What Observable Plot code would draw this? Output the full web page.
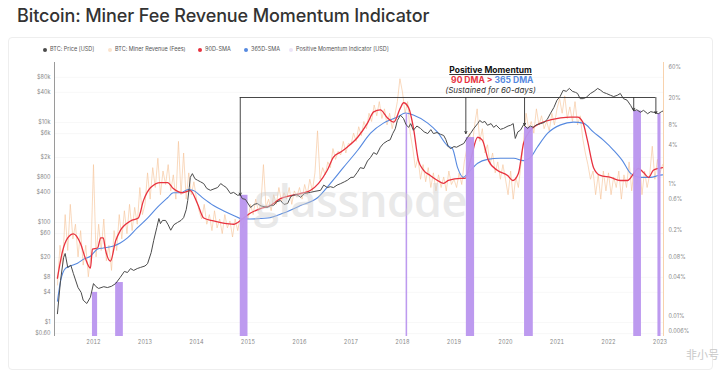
<!DOCTYPE html>
<html><head><meta charset="utf-8">
<script src="https://cdn.jsdelivr.net/npm/d3@7"></script>
<script src="https://cdn.jsdelivr.net/npm/@observablehq/plot@0.6"></script>
<style>
body{margin:0;background:#fff;font-family:Inter,"Noto Sans",sans-serif;}
#wrap{position:relative;width:719px;height:371px;overflow:hidden;background:#fff;}
#title{position:absolute;left:17px;top:5px;font-size:18px;font-weight:500;color:#333;white-space:nowrap;letter-spacing:-0.1px;}
#card{position:absolute;left:8px;top:37px;width:703px;height:331px;border:1px solid #eee;border-radius:4px;}
#legend{position:absolute;top:45px;left:0;width:719px;height:10px;font-size:5.5px;color:#555;}
.li{position:absolute;white-space:nowrap;top:0;line-height:8px;}
.dot{display:inline-block;width:4px;height:4px;border-radius:50%;margin-right:3px;vertical-align:-0.5px;}
#chart{position:absolute;left:0;top:58px;}
#wm{position:absolute;left:254px;top:169px;font-size:45px;font-weight:600;color:#cfcfcf;opacity:0.45;letter-spacing:-0.5px;font-family:"Open Sans",sans-serif;pointer-events:none;}
#fxh{position:absolute;left:686px;top:346px;font-size:11px;color:#c8c8c8;font-family:"Noto Sans CJK SC",sans-serif;}
</style></head>
<body><div id="wrap">
<div id="title">Bitcoin: Miner Fee Revenue Momentum Indicator</div>
<div id="card"></div>
<div id="legend"></div>
<div id="chart"></div>
<div id="wm">glassnode</div>
<div id="fxh">非小号</div>
</div>
<script>
// ---------- data ----------
const yearTicks = [2012,2013,2014,2015,2016,2017,2018,2019,2020,2021,2022,2023];
const leftTicks = [0.6,1,4,8,20,60,100,400,800,2000,6000,10000,40000,80000];
const leftTickLabels = ["$0.60","$1","$4","$8","$20","$60","$100","$400","$800","$2k","$6k","$10k","$40k","$80k"];
const rightTicks = [0.006,0.01,0.04,0.08,0.2,0.6,1,4,8,20,60];
const rightTickLabels = ["0.006%","0.01%","0.04%","0.08%","0.2%","0.6%","1%","4%","8%","20%","60%"];

const priceYears = [2011.30,2011.36,2011.42,2011.45,2011.50,2011.56,2011.61,2011.70,2011.76,2011.80,2011.87,2011.94,
2012.00,2012.05,2012.10,2012.20,2012.27,2012.35,2012.43,2012.52,2012.60,2012.66,2012.72,2012.78,2012.85,2012.91,
2013.00,2013.05,2013.12,2013.17,2013.23,2013.27,2013.30,2013.34,2013.40,2013.45,2013.50,2013.56,2013.63,2013.70,2013.75,2013.80,2013.83,2013.86,2013.88,2013.92,2013.97,
2014.02,2014.08,2014.14,2014.20,2014.27,2014.34,2014.41,2014.47,2014.52,2014.58,2014.66,2014.72,2014.80,2014.85,2014.89,2014.95,
2015.05,2015.12,2015.18,2015.25,2015.38,2015.44,2015.50,2015.56,2015.63,2015.70,2015.77,2015.83,2015.88,2015.95,
2016.02,2016.10,2016.21,2016.30,2016.41,2016.47,2016.54,2016.60,2016.66,2016.73,2016.80,2016.87,2016.93,
2017.00,2017.05,2017.12,2017.18,2017.25,2017.32,2017.38,2017.44,2017.50,2017.57,2017.63,2017.71,2017.76,2017.81,2017.86,2017.90,2017.96,
2018.02,2018.07,2018.12,2018.16,2018.21,2018.28,2018.35,2018.42,2018.49,2018.55,2018.60,2018.67,2018.74,2018.80,2018.84,2018.89,2018.93,
2019.00,2019.05,2019.12,2019.19,2019.26,2019.32,2019.38,2019.46,2019.50,2019.55,2019.60,2019.65,2019.72,2019.77,2019.82,2019.90,2019.96,
2020.05,2020.10,2020.15,2020.19,2020.24,2020.29,2020.35,2020.43,2020.48,2020.54,2020.60,2020.68,2020.75,2020.81,2020.87,2020.94,
2021.00,2021.06,2021.12,2021.18,2021.24,2021.30,2021.36,2021.40,2021.45,2021.51,2021.57,2021.65,2021.72,2021.79,2021.85,2021.90,2021.96,
2022.04,2022.10,2022.17,2022.23,2022.29,2022.36,2022.43,2022.49,2022.55,2022.62,2022.68,2022.76,2022.82,2022.87,2022.93,2022.97,2023.03,2023.06];
const priceVals = [1.5,6.9,20,24,12.6,14,9.5,5,4,2.8,2.4,3.2,
6,5.2,4.8,5.2,5,5.3,6,8,10.5,10,12,11,12,12.6,
13.5,15,25,44,80,120,95,110,110,90,70,90,100,110,125,180,275,500,800,950,750,
700,650,600,480,440,470,500,600,550,500,380,400,350,360,300,290,
200,230,240,215,200,220,220,260,275,230,240,330,350,360,
320,380,400,420,440,560,500,520,500,560,600,650,700,
800,800,1000,1250,1200,1700,2000,2500,2300,3200,3800,4300,4500,6000,7500,11000,14000,
12000,9000,8000,9500,7000,8500,7600,6500,6000,7200,6000,6300,5800,5500,4600,3300,3000,
3300,3200,3500,3800,5000,6000,7500,9500,11000,10000,10500,8800,9500,8000,8800,7300,7600,
8500,8800,9500,4800,6500,7000,9000,7600,8500,8000,9000,9500,10000,11500,15000,20000,
28000,33000,44000,42000,48000,42000,40000,38000,30000,30000,32000,38000,42000,48000,44000,40000,38000,
35000,33000,35000,38000,30000,28000,22000,17000,18000,16000,17500,15000,16500,16000,15500,15000,16500,17000];

// Miner revenue from fees (%), sampled every 0.05 year from 2011.30
const feeStart = 2011.30, feeStep = 0.05;
const feeVals = [
0.03,0.12,0.06,0.35,0.10,0.50,0.15,0.25,0.08,0.20,0.06,0.12,0.04,0.09,
2.0,0.08,0.25,0.10,0.30,0.07,0.12,0.05,0.20,0.10,0.35,0.15,0.40,0.18,0.50,0.20,0.45,0.25,0.90,0.35,
0.5,1.5,0.6,1.8,0.9,2.5,0.7,1.6,1.0,2.0,0.8,1.4,0.6,4.5,0.7,3.0,0.6,1.5,0.7,1.1,
0.6,0.4,0.3,0.5,0.25,0.35,0.2,0.4,0.22,0.3,0.18,0.35,0.22,0.28,0.16,0.3,0.2,0.32,0.22,0.4,
0.3,0.5,0.35,0.6,0.4,0.5,2.0,0.45,0.6,0.4,0.7,0.5,0.9,0.55,0.75,0.6,0.9,0.5,0.8,0.65,
0.9,0.6,1.0,0.7,1.2,0.8,1.5,6.5,1.2,1.8,1.4,2.2,1.8,3.5,2.4,3.2,2.8,4.5,3.0,4.2,
4.0,6.0,4.5,7.5,5.5,9.0,7.0,12.0,9.0,16.0,11.0,18.0,10.0,14.0,8.0,12.0,7.0,11.0,18.0,40.0,
25,12,18,6,3.5,1.8,2.5,1.2,2.0,1.1,1.8,0.9,1.5,0.8,1.4,0.9,1.3,0.8,1.6,1.0,
1.2,0.9,1.5,1.0,2.2,3.5,6.0,3.5,8.0,14.0,4.5,7.0,3.0,4.0,2.0,3.0,1.5,2.2,1.2,2.0,
1.2,0.7,1.6,0.6,1.3,0.9,2.0,4.5,12.0,7.0,9.0,6.0,14.0,8.0,11.0,7.0,9.0,6.5,12.0,8.0,
14,20,12,22,10,15,9,18,8,11,5,3,2,1.2,1.6,0.7,1.4,0.6,1.6,0.8,
1.5,0.7,1.3,0.9,1.6,0.6,1.4,0.9,2.2,0.8,1.8,1.0,2.5,0.7,1.6,0.9,1.4,3.8,1.2,2.4,
1.5,2.0];

const sma90Years = [2011.30,2011.40,2011.50,2011.61,2011.75,2011.84,2011.94,2011.98,2012.08,2012.14,2012.19,2012.23,2012.33,2012.43,2012.52,2012.72,2012.87,2012.97,
2013.11,2013.30,2013.44,2013.55,2013.73,2013.88,2014.02,2014.14,2014.33,2014.52,2014.72,2014.89,2015.05,2015.24,2015.44,2015.63,2015.83,
2016.02,2016.21,2016.37,2016.54,2016.66,2016.80,2016.93,2017.13,2017.32,2017.44,2017.57,2017.71,2017.83,2017.96,2018.02,2018.12,2018.21,2018.31,2018.41,2018.54,2018.68,2018.80,2018.89,
2019.13,2019.22,2019.32,2019.46,2019.55,2019.67,2019.84,2020.04,2020.14,2020.25,2020.35,2020.49,2020.68,2020.87,2021.07,2021.26,2021.40,2021.50,2021.59,2021.71,2021.84,
2022.04,2022.23,2022.37,2022.49,2022.58,2022.68,2022.78,2022.87,2022.97,2023.05];
const sma90Vals = [0.038,0.098,0.155,0.179,0.126,0.077,0.054,0.105,0.109,0.155,0.155,0.105,0.069,0.14,0.2,0.28,0.31,0.57,
0.9,1.07,1.07,0.87,0.75,0.81,0.51,0.31,0.28,0.26,0.25,0.30,0.37,0.43,0.48,0.61,0.68,
0.73,0.81,1.04,1.64,2.6,3.1,3.7,5.2,8.5,12.6,13.5,10.2,8.8,14.5,17.3,14.5,7.4,2.3,1.64,1.37,1.15,1.04,1.15,
1.24,1.24,2.3,5.2,4.7,2.3,1.64,1.37,1.15,1.47,4.2,6.7,8.5,9.5,10.2,10.5,10.5,8.8,4.7,1.8,1.37,
1.28,1.15,1.15,1.47,1.75,1.52,1.28,1.64,1.75,1.8];

const sma365Years = [2011.30,2011.36,2011.46,2011.55,2011.69,2011.81,2011.94,2012.08,2012.19,2012.39,2012.52,2012.66,2012.85,
2013.05,2013.24,2013.44,2013.55,2013.69,2013.84,2013.94,2014.14,2014.33,2014.52,2014.72,2014.89,2015.05,2015.38,2015.69,
2016.02,2016.35,2016.60,2016.85,2017.13,2017.38,2017.63,2017.90,2018.06,2018.21,2018.49,2018.68,2018.87,2018.97,
2019.07,2019.18,2019.28,2019.46,2019.65,2019.90,2020.16,2020.35,2020.49,2020.62,2020.82,2021.07,2021.32,2021.51,2021.71,2021.90,
2022.10,2022.27,2022.43,2022.62,2022.82,2022.97,2023.05];
const sma365Vals = [0.017,0.034,0.054,0.058,0.064,0.074,0.082,0.105,0.109,0.117,0.13,0.155,0.22,
0.31,0.45,0.63,0.75,0.75,0.84,0.81,0.61,0.48,0.40,0.34,0.30,0.30,0.31,0.37,
0.48,0.63,1.04,1.8,3.3,6.0,8.5,10.5,12.1,11.3,8.5,6.2,3.9,3.5,
1.8,1.28,1.52,2.1,2.4,2.5,2.5,2.3,2.6,3.7,6.0,8.0,8.8,8.5,6.2,4.7,
3.3,2.3,1.47,1.28,1.28,1.37,1.4];

// Positive Momentum Indicator [USD] periods
const barStart = [2011.98,2012.43,2014.85,2018.07,2019.24,2020.37,2022.49,2022.96];
const barEnd   = [2012.08,2012.58,2015.00,2018.10,2019.40,2020.54,2022.64,2023.02];
const barTop   = [4,6.3,350,15000,5000,8000,17000,15000];

// annotation connectors
const annX      = [2014.85,2019.23,2020.37,2022.49,2022.92];
const annBottom = [350,6000,8700,17400,15100];
const annLevel  = 31600;
const annLabelX = 2019.71;
const annLabelY = [110000,69000,43600];

// ---------- scales ----------
const xDomain = [2011.243, 2023.068];
const yDomainUSD = [0.5248, 158489];
const yDomainPct = [0.004977, 70.5];
const L0 = Math.log10(yDomainUSD[0]), L1 = Math.log10(yDomainUSD[1]);
const R0 = Math.log10(yDomainPct[0]), R1 = Math.log10(yDomainPct[1]);
const pctToUSD = p => 10 ** (L0 + (Math.log10(p) - R0) / (R1 - R0) * (L1 - L0));

const price = priceYears.map((x,i)=>({x, y: priceVals[i]}));
const fee = feeVals.map((v,i)=>({x: feeStart + i*feeStep, y: pctToUSD(v)}));
const sma90 = sma90Years.map((x,i)=>({x, y: pctToUSD(sma90Vals[i])}));
const sma365 = sma365Years.map((x,i)=>({x, y: pctToUSD(sma365Vals[i])}));
const bars = barStart.map((x1,i)=>({x1, x2: barEnd[i], y: barTop[i]}));
const ann = annX.map((x,i)=>({x, y1: annLevel, y2: annBottom[i]}));
const leftT = leftTicks.map((v,i)=>({v, t: leftTickLabels[i]}));
const rightT = rightTicks.map((v,i)=>({v: pctToUSD(v), t: rightTickLabels[i]}));

const C = {price:"#4b4b4b", fee:"#f6c49b", red:"#e8323f", blue:"#5689e0", bar:"#b995ee"};

// ---------- legend ----------
const legendItems = [
  {left:43, label:"BTC: Price [USD]", color:C.price},
  {left:108, label:"BTC: Miner Revenue (Fees)", color:"#fbe3cd"},
  {left:198, label:"90D-SMA", color:C.red},
  {left:244, label:"365D-SMA", color:C.blue},
  {left:289, label:"Positive Momentum Indicator [USD]", color:"#ece4f7"}
];
const lg = document.getElementById("legend");
for (const it of legendItems) {
  const s = document.createElement("span");
  s.className = "li"; s.style.left = it.left + "px";
  s.innerHTML = `<span class="dot" style="background:${it.color}"></span>${it.label}`;
  lg.appendChild(s);
}

// ---------- plot ----------
const chart = Plot.plot({
  width: 719, height: 313,
  marginTop: 4, marginBottom: 35, marginLeft: 54, marginRight: 56,
  style: {fontFamily: "Inter, 'Noto Sans', sans-serif", background: "transparent"},
  x: {domain: xDomain, ticks: yearTicks, tickFormat: d => String(d), tickSize: 0, tickPadding: 4, label: null},
  y: {type: "log", domain: yDomainUSD, axis: null},
  marks: [
    Plot.ruleY(leftTicks, {y: d => d, stroke: "#f3f3f3", strokeWidth: 0.6}),
    Plot.line(fee, {x: "x", y: "y", stroke: C.fee, strokeWidth: 1, strokeOpacity: 0.65}),
    Plot.line(sma365, {x: "x", y: "y", stroke: C.blue, strokeWidth: 1.1, curve: "monotone-x"}),
    Plot.line(sma90, {x: "x", y: "y", stroke: C.red, strokeWidth: 1.3, curve: "monotone-x"}),
    Plot.rect(bars, {x1: "x1", x2: "x2", y1: yDomainUSD[0], y2: "y", fill: C.bar, fillOpacity: 0.95}),
    Plot.line(price, {x: "x", y: "y", stroke: C.price, strokeWidth: 1}),
    Plot.ruleY([annLevel], {x1: annX[0], x2: annX[annX.length-1], stroke: "#333", strokeWidth: 0.9}),
    Plot.arrow(ann, {x1: "x", x2: "x", y1: "y1", y2: "y2", stroke: "#333", strokeWidth: 0.9, headLength: 4, headAngle: 50}),
    Plot.text(["Positive Momentum"], {x: annLabelX, y: annLabelY[0], text: d => d, fontWeight: 700, fontSize: 8.5, fill: "#111"}),
    Plot.text(["90 DMA >"], {x: annLabelX, y: annLabelY[1], text: d => d, fontWeight: 700, fontSize: 8.5, fill: C.red, textAnchor: "end", dx: 2}),
    Plot.text(["365 DMA"], {x: annLabelX, y: annLabelY[1], text: d => d, fontWeight: 700, fontSize: 8.5, fill: C.blue, textAnchor: "start", dx: 4}),
    Plot.text(["(Sustained for 60-days)"], {x: annLabelX, y: annLabelY[2], text: d => d, fontStyle: "italic", fontSize: 8, fill: "#333"}),
    Plot.ruleX([xDomain[0]], {stroke: "#9a9a9a", strokeWidth: 1}),
    Plot.ruleX([xDomain[1]], {stroke: "#f8d2ad", strokeWidth: 1}),
    Plot.text(leftT, {x: xDomain[0], y: "v", text: "t", textAnchor: "end", dx: -4, fontSize: 5.5, fill: "#888"}),
    Plot.text(rightT, {x: xDomain[1], y: "v", text: "t", textAnchor: "start", dx: 5, fontSize: 5.5, fill: "#888"})
  ]
});
chart.querySelectorAll("[aria-label='x-axis tick label'] text, g[aria-label='x-axis tick label']").forEach(g=>{g.setAttribute("font-size","5.5"); g.setAttribute("fill","#888");});
chart.querySelectorAll("text").forEach(t => { if (t.textContent === "Positive Momentum") t.style.textDecoration = "underline"; });
document.getElementById("chart").appendChild(chart);
</script>
</body></html>
